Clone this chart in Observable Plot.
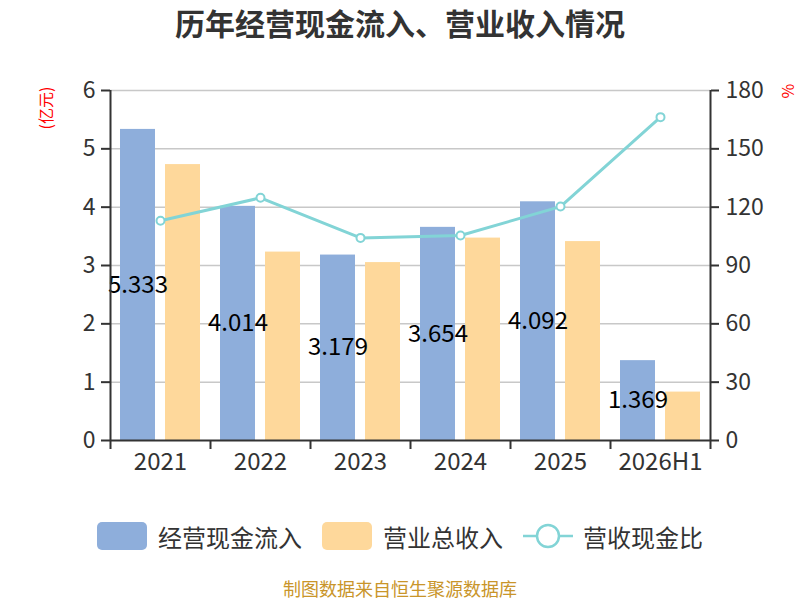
<!DOCTYPE html>
<html>
<head>
<meta charset="utf-8">
<script src="https://cdn.jsdelivr.net/npm/d3@7"></script>
<script src="https://cdn.jsdelivr.net/npm/@observablehq/plot@0.6"></script>
<style>
  html, body { margin: 0; padding: 0; background: #fff; }
  #wrap { position: relative; width: 800px; height: 600px; font-family: "Noto Sans CJK SC", "Noto Sans", sans-serif; color: #333; }
  #chart { position: absolute; left: 0; top: 0; }
  .title { position: absolute; left: 0; width: 800px; top: 1px; text-align: center; font-size: 30px; font-weight: bold; color: #333; line-height: 42px; }
  .ylab { position: absolute; color: #ff0000; font-size: 16px; transform: rotate(-90deg); transform-origin: center; white-space: nowrap; line-height: 20px; }
  .legend-item { position: absolute; top: 520px; height: 32px; display: flex; align-items: center; font-size: 24px; color: #333; white-space: nowrap; }
  .swatch { width: 50px; height: 28px; border-radius: 5px; margin-right: 11px; }
  .caption { position: absolute; left: 0; width: 800px; top: 576px; text-align: center; font-size: 18px; color: #c9952a; line-height: 24px; }
</style>
</head>
<body>
<div id="wrap">
  <div id="chart"></div>
  <div class="title">历年经营现金流入、营业收入情况</div>
  <div class="ylab" style="left:24px; top:98px;">(亿元)</div>
  <div class="ylab" style="left:780px; top:81px;">%</div>
  <div class="legend-item" style="left:97px;"><div class="swatch" style="background:#8eaedb"></div>经营现金流入</div>
  <div class="legend-item" style="left:322px;"><div class="swatch" style="background:#fed89b"></div>营业总收入</div>
  <div class="legend-item" style="left:522px;">
    <svg width="60" height="32" style="margin-right:1px"><line x1="1" x2="51" y1="16" y2="16" stroke="#82d4d6" stroke-width="2.5"/><circle cx="26" cy="16" r="11" fill="#fff" stroke="#82d4d6" stroke-width="2.5"/></svg>营收现金比
  </div>
  <div class="caption">制图数据来自恒生聚源数据库</div>
</div>
<script>
const years = ["2021", "2022", "2023", "2024", "2025", "2026H1"];
const cashIn = [5.333, 4.014, 3.179, 3.654, 4.092, 1.369];
const revenue = [4.73, 3.23, 3.05, 3.47, 3.41, 0.83];
const ratio = [113.0, 124.8, 104.2, 105.4, 120.3, 166.3];
const leftTicks = [0, 1, 2, 3, 4, 5, 6];
const rightTicks = [0, 30, 60, 90, 120, 150, 180];

const rows = years.map((y, i) => ({ year: y, i, cash: cashIn[i], rev: revenue[i], ratio: ratio[i] }));
const ratioToLeft = v => v / 30;

const blue = "#8eaedb", orange = "#fed89b", teal = "#82d4d6";

const chart = Plot.plot({
  width: 800,
  height: 480,
  marginLeft: 110,
  marginRight: 90,
  marginTop: 90,
  marginBottom: 40,
  x: { domain: [0, years.length], axis: null },
  y: { domain: [0, 6], axis: null },
  style: { fontFamily: "'Noto Sans CJK SC', 'Noto Sans', sans-serif", fontSize: "20px", color: "#333", background: "transparent" },
  marks: [
    Plot.gridY(leftTicks.slice(1), { stroke: "#c8c8c8", strokeOpacity: 1, strokeWidth: 1.5 }),
    Plot.rectY(rows, { x1: d => d.i, x2: d => d.i + 0.5, y: "cash", fill: blue, insetLeft: 10, insetRight: 5 }),
    Plot.rectY(rows, { x1: d => d.i + 0.5, x2: d => d.i + 1, y: "rev", fill: orange, insetLeft: 5, insetRight: 10 }),
    Plot.line(rows, { x: d => d.i + 0.5, y: d => ratioToLeft(d.ratio), stroke: teal, strokeWidth: 3 }),
    Plot.dot(rows, { x: d => d.i + 0.5, y: d => ratioToLeft(d.ratio), r: 4, fill: "#fff", stroke: teal, strokeWidth: 2 }),
    Plot.text(rows, { x: d => d.i + 0.25, dx: 2.5, y: d => d.cash / 2, text: d => d.cash.toFixed(3), fontSize: 24, fill: "#000" }),
    Plot.axisY(leftTicks, { anchor: "left", tickSize: 9, tickPadding: 6, fontSize: 23, color: "#333", strokeWidth: 2, tickFormat: d => String(d), label: null }),
    Plot.axisY(leftTicks, { anchor: "right", tickSize: 8, tickPadding: 7, fontSize: 23, color: "#333", strokeWidth: 2, tickFormat: d => String(rightTicks[d]), label: null }),
    Plot.axisX(years.map((_, i) => i + 0.5), { anchor: "bottom", tickSize: 0, tickPadding: 12, fontSize: 24, color: "#333", tickFormat: d => years[Math.round(d - 0.5)], label: null }),
    Plot.axisX(d3.range(years.length + 1), { anchor: "bottom", tickSize: 9, color: "#333", strokeWidth: 2, tickFormat: () => "", label: null }),
    Plot.ruleX([0, years.length], { stroke: "#333", strokeWidth: 2 }),
    Plot.ruleY([0], { stroke: "#333", strokeWidth: 2 })
  ]
});
document.getElementById("chart").appendChild(chart);
</script>
</body>
</html>
